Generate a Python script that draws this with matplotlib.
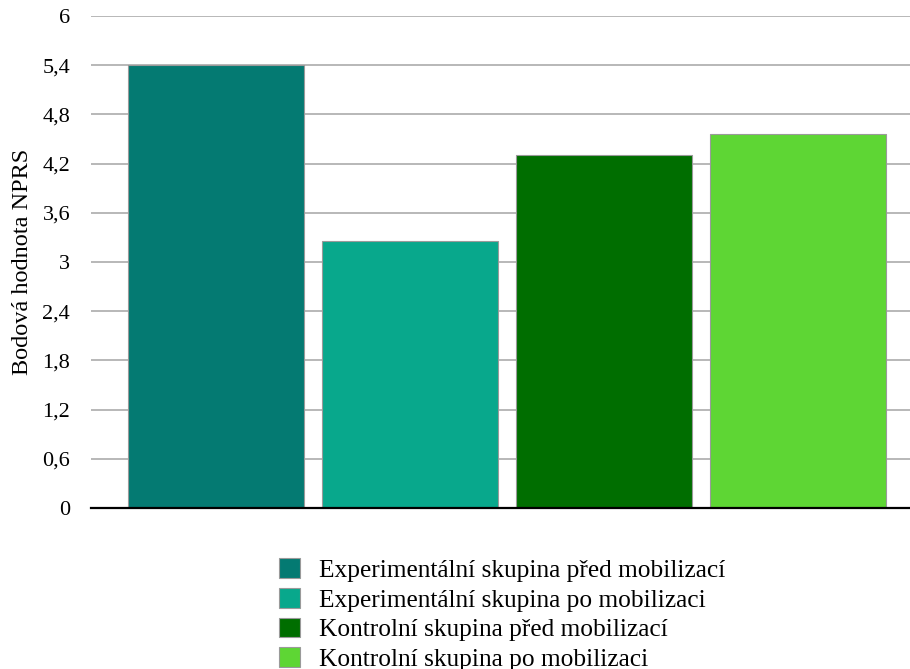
import matplotlib.pyplot as plt
from matplotlib.ticker import FuncFormatter

skupiny = [
    "Experimentální skupina před mobilizací",
    "Experimentální skupina po mobilizaci",
    "Kontrolní skupina před mobilizací",
    "Kontrolní skupina po mobilizaci",
]
nprs = [5.4, 3.26, 4.3, 4.56]
barvy = ["#047A72", "#08A88C", "#006E00", "#5ED634"]
y_ticks = [0, 0.6, 1.2, 1.8, 2.4, 3, 3.6, 4.2, 4.8, 5.4, 6]

plt.rcParams['font.family'] = ['Liberation Serif', 'DejaVu Serif']

fig = plt.figure(figsize=(9.1, 6.69), dpi=100)
ax = fig.add_axes([91 / 910, 161 / 669, 832 / 910, 492 / 669])

w = 0.907
pos = list(range(len(nprs)))
bars = ax.bar(pos, nprs, width=w, color=barvy, edgecolor="#9a9a9a",
              linewidth=0.8, label=skupiny, zorder=3)

ax.set_ylim(0, 6)
ax.set_xlim(-w / 2 - 0.19, pos[-1] + w / 2 + 0.19)
ax.set_yticks(y_ticks)
ax.yaxis.set_major_formatter(FuncFormatter(lambda v, _: f"{v:g}".replace(".", ",")))
ax.set_xticks([])
ax.tick_params(axis="y", length=0, pad=15, labelsize=16)
ax.grid(axis="y", color="#ababab", linewidth=1.2, zorder=0)
for s in ("left", "right", "top"):
    ax.spines[s].set_visible(False)
ax.spines["bottom"].set_color("black")
ax.spines["bottom"].set_linewidth(1.6)
ax.spines["bottom"].set_zorder(4)

ax.set_ylabel("Bodová hodnota NPRS", fontsize=17.5)
ax.yaxis.set_label_coords(-58 / 832, 0.5)

fig.legend(handles=bars, labels=skupiny, loc="upper left",
           bbox_to_anchor=(264 / 910, 1 - 543 / 669), frameon=False,
           fontsize=18.3, handlelength=0.83, handleheight=0.83,
           labelspacing=0.23, handletextpad=0.75, borderpad=0.1)

fig.savefig("out.png", dpi=100)
